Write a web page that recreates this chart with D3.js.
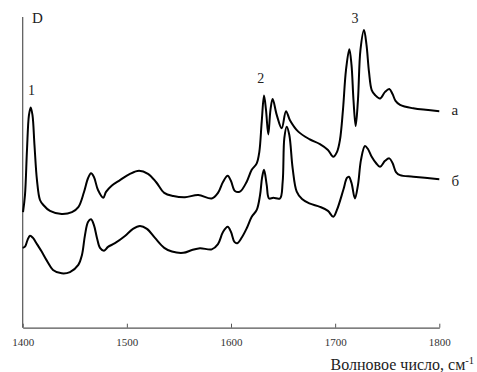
<!DOCTYPE html>
<html><head><meta charset="utf-8">
<script src="https://cdn.jsdelivr.net/npm/d3@7"></script>
<style>
html,body{margin:0;padding:0;background:#fff;}
svg{display:block;}
svg text{font-family:"Liberation Serif","Times New Roman","DejaVu Serif",serif !important;}
</style></head>
<body>
<svg id="chart" width="477" height="372"></svg>
<script>
// Wavenumber (cm-1) and optical density D
const waveA = [1400.3,1402.2,1404.1,1406.0,1407.7,1409.4,1411.3,1413.7,1416.6,1419.8,1426.2,1437.4,1447.3,1453.4,1458.8,1462.7,1465.6,1468.4,1472.3,1477.4,1480.0,1485.4,1493.4,1503.0,1511.7,1520.3,1528.0,1535.9,1544.6,1555.8,1568.6,1581.5,1587.5,1592.3,1596.8,1600.0,1603.8,1608.6,1615.1,1619.9,1624.7,1627.2,1629.5,1631.7,1633.6,1635.8,1637.9,1640.0,1643.9,1648.7,1652.8,1656.6,1664.6,1675.2,1685.4,1693.1,1698.2,1701.7,1704.6,1707.5,1710.4,1713.6,1715.7,1717.6,1719.7,1721.9,1724.3,1727.7,1730.1,1732.5,1735.1,1738.3,1743.1,1747.9,1752.0,1755.1,1758.0,1762.3,1775.0,1800.0];
const seriesA = [0.372,0.427,0.571,0.684,0.709,0.684,0.588,0.475,0.411,0.395,0.376,0.366,0.372,0.388,0.436,0.481,0.497,0.485,0.443,0.418,0.437,0.457,0.475,0.495,0.505,0.495,0.469,0.434,0.424,0.420,0.427,0.416,0.434,0.469,0.489,0.472,0.440,0.438,0.470,0.508,0.529,0.566,0.663,0.747,0.701,0.622,0.701,0.736,0.685,0.642,0.697,0.668,0.631,0.607,0.591,0.572,0.550,0.565,0.604,0.701,0.829,0.896,0.846,0.733,0.649,0.733,0.894,0.958,0.910,0.823,0.765,0.749,0.738,0.759,0.768,0.752,0.730,0.717,0.706,0.697];

const waveB = [1400.0,1402.2,1404.6,1407.0,1409.9,1413.7,1418.2,1423.3,1429.1,1437.4,1445.4,1453.4,1456.9,1459.8,1462.7,1465.6,1468.4,1471.3,1474.2,1478.1,1481.9,1488.6,1498.2,1505.9,1512.6,1519.3,1527.0,1535.9,1543.3,1554.2,1562.5,1570.2,1581.5,1587.5,1592.3,1596.8,1600.0,1603.3,1606.0,1610.5,1615.1,1619.9,1624.7,1627.9,1629.8,1631.7,1634.3,1636.5,1640.6,1647.0,1649.6,1651.2,1653.5,1656.0,1659.2,1663.1,1668.2,1675.2,1685.4,1693.1,1698.2,1701.7,1707.8,1711.3,1713.2,1715.7,1719.0,1721.9,1724.8,1728.6,1731.5,1735.1,1739.2,1743.1,1747.9,1752.0,1755.1,1758.4,1762.3,1775.0,1800.0];
const seriesB = [0.257,0.261,0.282,0.296,0.289,0.269,0.245,0.215,0.186,0.175,0.179,0.202,0.234,0.298,0.340,0.349,0.330,0.289,0.257,0.248,0.260,0.272,0.295,0.318,0.327,0.318,0.289,0.257,0.245,0.241,0.250,0.256,0.252,0.269,0.308,0.325,0.308,0.276,0.272,0.291,0.320,0.357,0.379,0.427,0.482,0.508,0.459,0.416,0.418,0.416,0.469,0.610,0.647,0.620,0.513,0.438,0.414,0.400,0.389,0.376,0.357,0.379,0.443,0.482,0.486,0.466,0.416,0.459,0.540,0.585,0.575,0.550,0.530,0.518,0.537,0.545,0.530,0.501,0.491,0.486,0.478];

const xTicks = [1400,1500,1600,1700,1800];
const peakLabels = ["1","2","3"];
const peakWave = [1408.5,1628.5,1719];
const peakD = [0.748,0.786,0.982];
const curveLabels = ["а","б"];
const curveLabelD = [0.685,0.457];

const svg = d3.select("#chart");
const mLeft = 22.7, mRight = 439.3, mTop = 17, mBottom = 327.7;
const x = d3.scaleLinear().domain([1400,1800]).range([mLeft,mRight]);
const y = d3.scaleLinear().domain([0,1]).range([mBottom,mTop]);
const serif = "Liberation Serif, Times New Roman, DejaVu Serif, serif";

// axes
const axisColor = "#555";
const gx = svg.append("g").attr("transform",`translate(0,${mBottom})`)
  .call(d3.axisBottom(x).tickValues(xTicks).tickFormat(d3.format("d"))
    .tickSizeInner(-4).tickSizeOuter(0).tickPadding(11));
gx.attr("font-family",serif);
gx.select(".domain").attr("stroke",axisColor).attr("stroke-width",1.2);
gx.selectAll(".tick line").attr("stroke",axisColor).attr("stroke-width",1);
gx.selectAll(".tick text").attr("font-size",11).attr("fill","#333");

svg.append("line").attr("x1",mLeft).attr("x2",mLeft).attr("y1",y(1)).attr("y2",mBottom)
  .attr("stroke",axisColor).attr("stroke-width",1.2);

// curves
const line = d3.line().x(d=>x(d[0])).y(d=>y(d[1])).curve(d3.curveCatmullRom.alpha(0.5));
[[waveA,seriesA],[waveB,seriesB]].forEach(([w,s])=>{
  svg.append("path").datum(w.map((v,i)=>[v,s[i]]))
    .attr("d",line).attr("fill","none").attr("stroke","#000").attr("stroke-width",2)
    .attr("stroke-linejoin","round");
});

// labels
svg.append("text").attr("x",32).attr("y",22.7).attr("font-size",15).attr("fill","#222").text("D");
peakLabels.forEach((t,i)=>{
  svg.append("text").attr("x",x(peakWave[i])).attr("y",y(peakD[i])).attr("text-anchor","middle")
    .attr("font-size",14).attr("fill","#222").text(t);
});
curveLabels.forEach((t,i)=>{
  svg.append("text").attr("x",451.5).attr("y",y(curveLabelD[i])).attr("font-size",15)
    .attr("fill","#222").text(t);
});
const title = svg.append("text").attr("x",474).attr("y",369.5).attr("text-anchor","end")
  .attr("font-size",16).attr("fill","#222");
title.append("tspan").text("Волновое число, см");
title.append("tspan").attr("dy",-6).attr("font-size",10.5).text("-1");
</script>
</body></html>
